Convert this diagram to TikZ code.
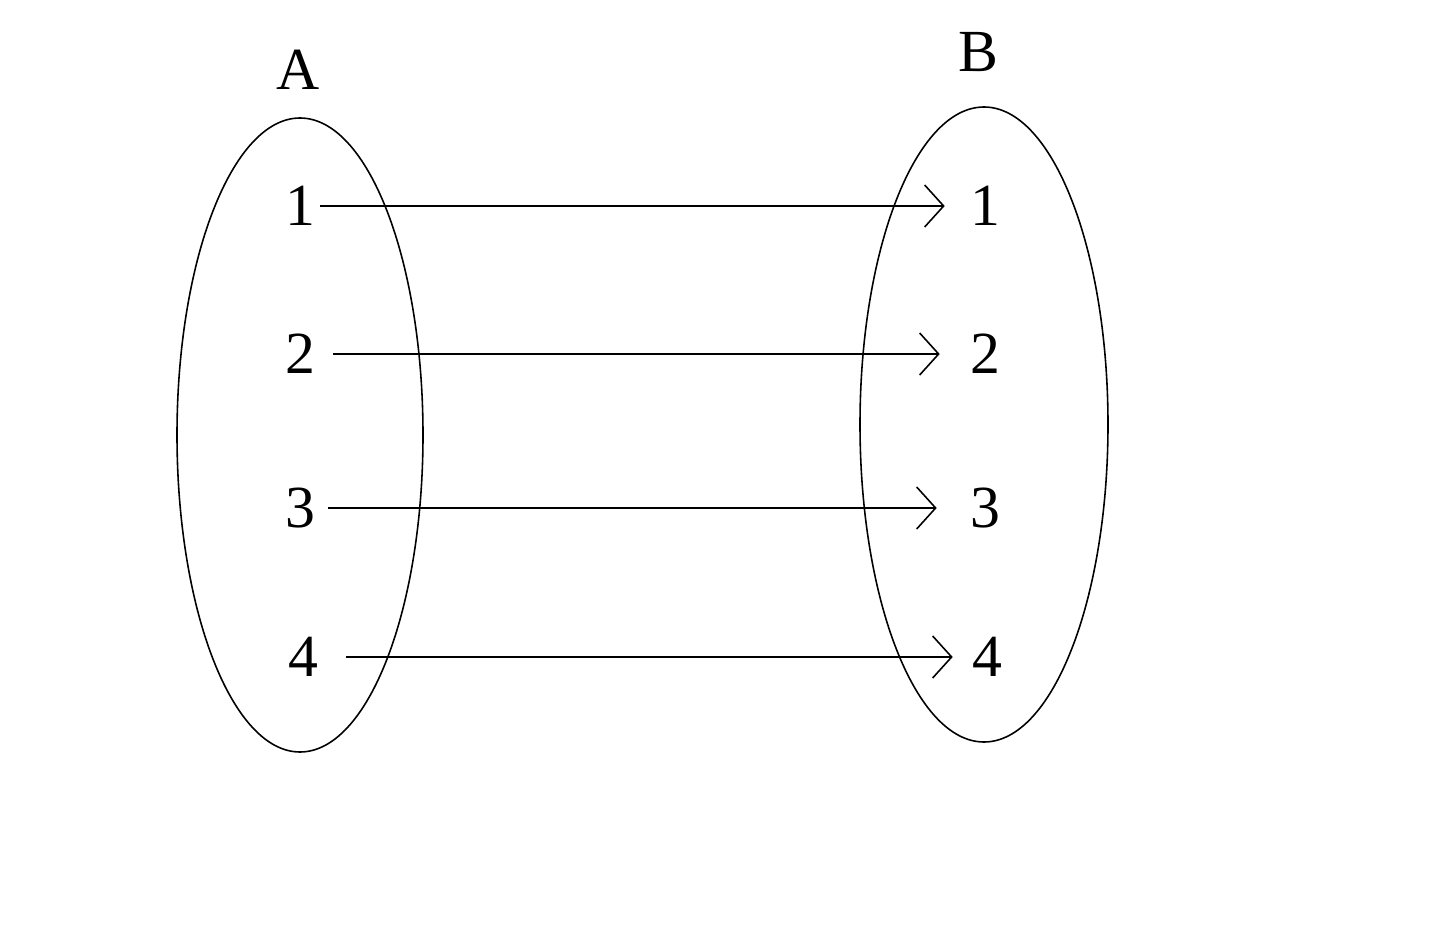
\documentclass[tikz,border=0pt]{standalone}
\usepackage{fontspec}
\setmainfont{Liberation Serif}
\usetikzlibrary{arrows.meta}

\tikzset{
  elt/.style={inner sep=0pt, font=\fontsize{34}{40}\selectfont},
  maparrow/.style={line width=0.9pt, -{Straight Barb[length=0.38cm,width=0.84cm,line width=0.9pt]}}
}

\begin{document}
\begin{tikzpicture}
            \useasboundingbox (0, 0) rectangle (28.8, -18.94);
            \draw[line width=0.9pt] (6, -8.7) ellipse (2.46 and 6.34);
            \draw[line width=0.9pt] (19.68, -8.49) ellipse (2.48 and 6.35);
            \node[elt] (setA) at (5.96, -1.4) {A};
            \node[elt] (setB) at (19.56, -1.04) {B};
            \node[elt] (a1) at (6, -4.12) {1};
            \node[elt] (a2) at (6, -7.08) {2};
            \node[elt] (a3) at (6, -10.16) {3};
            \node[elt] (a4) at (6.06, -13.14) {4};
            \node[elt] (b1) at (19.7, -4.12) {1};
            \node[elt] (b2) at (19.7, -7.08) {2};
            \node[elt] (b3) at (19.7, -10.16) {3};
            \node[elt] (b4) at (19.74, -13.14) {4};
            \draw[maparrow, shorten <=0.1cm, shorten >=0.5cm] (a1) -- (b1);
            \draw[maparrow, shorten <=0.36cm, shorten >=0.6cm] (a2) -- (b2);
            \draw[maparrow, shorten <=0.26cm, shorten >=0.66cm] (a3) -- (b3);
            \draw[maparrow, shorten <=0.56cm, shorten >=0.38cm] (a4) -- (b4);
        \end{tikzpicture}
\end{document}
